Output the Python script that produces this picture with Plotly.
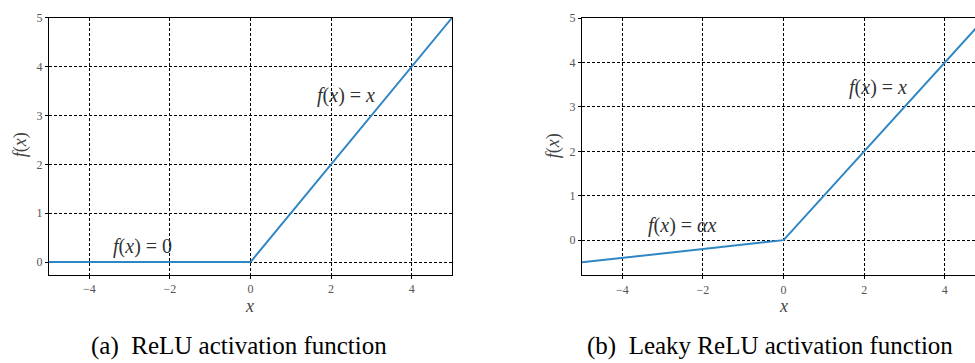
import plotly.graph_objects as go

# ReLU and Leaky ReLU sampled at their breakpoints
x_vals = [-5, 0, 5]
relu_vals = [0, 0, 5]
alpha = 0.1
leaky_vals = [-0.5, 0, 5]

x_ticks = [-4, -2, 0, 2, 4]
x_tick_text = ["\u22124", "\u22122", "0", "2", "4"]
y_ticks = [0, 1, 2, 3, 4, 5]

W, H = 975, 363
LINE = "#2f86c4"
SERIF = "Liberation Serif"

fig = go.Figure()
fig.add_trace(go.Scatter(x=x_vals, y=relu_vals, mode="lines",
                         line=dict(color=LINE, width=2), xaxis="x", yaxis="y",
                         showlegend=False, hoverinfo="skip"))
fig.add_trace(go.Scatter(x=x_vals, y=leaky_vals, mode="lines",
                         line=dict(color=LINE, width=2), xaxis="x2", yaxis="y2",
                         showlegend=False, hoverinfo="skip"))

tickfont = dict(family=SERIF, size=12, color="#555555")
grid = dict(showgrid=True, gridcolor="black", gridwidth=0.8, griddash="3px,2px",
            zeroline=False, ticks="outside", ticklen=3, tickcolor="black",
            tickfont=tickfont, linecolor="black", linewidth=1.2, showline=True)

fig.update_layout(
    width=W, height=H,
    margin=dict(l=0, r=0, t=0, b=0),
    paper_bgcolor="white", plot_bgcolor="white",
    xaxis=dict(domain=[49 / W, 452 / W], range=[-5, 5], tickvals=x_ticks,
               ticktext=x_tick_text, mirror=True, anchor="y", **grid),
    yaxis=dict(domain=[1 - 273 / H, 1 - 11 / H], range=[-0.26, 5],
               tickvals=y_ticks, mirror=True, anchor="x", **grid),
    xaxis2=dict(domain=[582 / W, 1.0], range=[-5, 4.75], tickvals=x_ticks,
                ticktext=x_tick_text, mirror=True, anchor="y2", **grid),
    yaxis2=dict(domain=[1 - 273.3 / H, 1 - 11.3 / H], range=[-0.785, 5],
                tickvals=y_ticks, mirror=False, anchor="x2", **grid),
)

ann_font = dict(family=SERIF, size=20, color="#333333")
label_font = dict(family=SERIF, size=18, color="#444444")
cap_font = dict(family=SERIF, size=25, color="black")


def note(x, y, text, font, xref="paper", yref="paper", angle=0):
    return dict(x=x, y=y, xref=xref, yref=yref, text=text, showarrow=False,
                font=font, xanchor="center", yanchor="middle", textangle=angle)


annotations = [
    # curve labels
    note(-2.68, 0.32, "<i>f</i>(<i>x</i>) = 0", ann_font, "x", "y"),
    note(2.36, 3.41, "<i>f</i>(<i>x</i>) = <i>x</i>", ann_font, "x", "y"),
    note(-2.51, 0.33, "<i>f</i>(<i>x</i>) = <i>\u03b1x</i>", ann_font, "x2", "y2"),
    note(2.34, 3.44, "<i>f</i>(<i>x</i>) = <i>x</i>", ann_font, "x2", "y2"),
    # axis titles
    note(250 / W, 1 - 305 / H, "<i>x</i>", label_font),
    note(783 / W, 1 - 305 / H, "<i>x</i>", label_font),
    note(20 / W, 1 - 141 / H, "<i>f</i>(<i>x</i>)", label_font, angle=-90),
    note(553 / W, 1 - 142 / H, "<i>f</i>(<i>x</i>)", label_font, angle=-90),
    # captions
    note(239 / W, 1 - 346 / H, "(a)  ReLU activation function", cap_font),
    note(770 / W, 1 - 346 / H, "(b)  Leaky ReLU activation function", cap_font),
]
fig.update_layout(annotations=annotations)

fig.write_html("out.html")
